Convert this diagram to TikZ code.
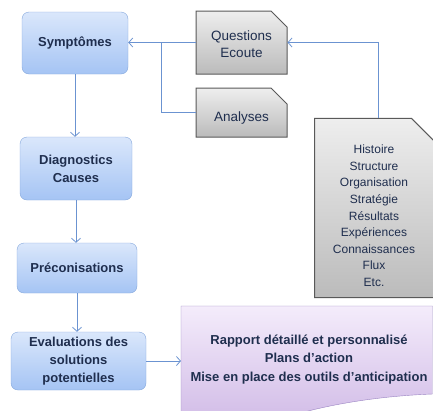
\documentclass[tikz,border=0pt]{standalone}
\usepackage{fontspec}
\setmainfont{Liberation Sans}
\usetikzlibrary{arrows.meta,shapes.misc,calc}
\definecolor{ink}{HTML}{1F2E4E}
\definecolor{link}{HTML}{6B93D1}
\definecolor{bluetop}{HTML}{DAE7FB}
\definecolor{bluebot}{HTML}{A5C4F4}
\definecolor{blueline}{HTML}{84A7DC}
\definecolor{greytop}{HTML}{EEEEEE}
\definecolor{greybot}{HTML}{BBBBBB}
\definecolor{greyline}{HTML}{595959}
\definecolor{lilactop}{HTML}{F4ECFB}
\definecolor{lilacbot}{HTML}{D3BEE8}
\definecolor{lilacline}{HTML}{9A84C2}

\begin{document}
\begin{tikzpicture}[x=1pt,y=-1pt, >={Straight Barb[length=4pt,width=9pt]},
 phase/.style={draw=blueline, rounded corners=7pt, top color=bluetop, bottom color=bluebot, text=ink, align=center, inner sep=0pt, font=\bfseries\fontsize{13}{18}\selectfont},
 source/.style={chamfered rectangle, chamfered rectangle corners=north east, chamfered rectangle xsep=8pt, chamfered rectangle ysep=8pt, draw=greyline, line width=1pt, top color=greytop, bottom color=greybot, text=ink, align=center, inner sep=0pt},
 link/.style={draw=link, line width=0.8pt}]
\useasboundingbox (0,0) rectangle (433,410);

% purple document
\draw[draw=lilacline, top color=lilactop, bottom color=lilacbot] (181,306) -- (432.5,306) -- (432.5,394) .. controls (380,396) and (330,404) .. (290,416) -- (181,416) -- cycle;
\coordinate (rapw) at (181,0);
\node[text=ink, align=center, font=\bfseries\fontsize{13}{18.5}\selectfont] (rapport) at (309,359.5) {Rapport détaillé et personnalisé\\Plans d’action\\Mise en place des outils d’anticipation};

% left column
\node[phase, minimum width=106pt, minimum height=62pt] (symp) at (75,43) {Symptômes};
\node[phase, minimum width=112pt, minimum height=63pt] (diag) at (76,168.5) {Diagnostics\\Causes};
\node[phase, minimum width=120pt, minimum height=50pt] (prec) at (77,268) {Préconisations};
\node[phase, minimum width=135pt, minimum height=58pt] (eval) at (78.5,361) {Evaluations des\\solutions\\potentielles};

% sources
\node[source, minimum width=91pt, minimum height=63pt, text height=30pt, font=\fontsize{13.5}{16.7}\selectfont] (quest) at (241.5,42.5) {Questions\\Ecoute};
\node[source, minimum width=91pt, minimum height=49pt, text height=21pt, font=\fontsize{13.5}{16.7}\selectfont] (analy) at (241.5,112.5) {Analyses};
\node[source, minimum width=119pt, minimum height=170pt, chamfered rectangle xsep=11pt, chamfered rectangle ysep=11pt, text height=157pt, font=\fontsize{12}{16.6}\selectfont] (hist) at (374,208) {Histoire\\Structure\\Organisation\\Stratégie\\Résultats\\Expériences\\Connaissances\\Flux\\Etc.};

\draw[link,->] (symp.south) -- (symp.south |- diag.north);
\draw[link,->] (diag.south) -- (diag.south |- prec.north);
\draw[link,->] (prec.south) -- (prec.south |- eval.north);
\draw[link,->] (quest.west) -- (quest.west -| symp.east);
\draw[link] (analy.west) -| ($(symp.east)!.5!(quest.west)$);
\draw[link,->] ([xshift=4pt]hist.north) |- (quest.east);
\draw[link,->] (eval.east) -- (eval.east -| rapw);
\end{tikzpicture}
\end{document}
